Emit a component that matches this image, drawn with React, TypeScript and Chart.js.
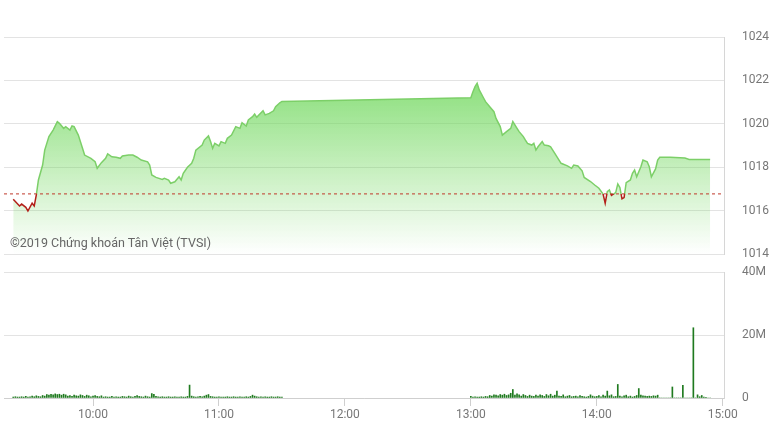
import React, { useEffect, useRef } from 'react';
import { Chart, registerables } from 'chart.js';

Chart.register(...registerables);

// ---------- DATA ----------
const priceTimes = [
  '09:22', '09:25', '09:26', '09:28', '09:29', '09:31', '09:32', '09:33', '09:34', '09:36',
  '09:37', '09:39', '09:41', '09:43', '09:44', '09:46', '09:47', '09:49', '09:50', '09:51',
  '09:53', '09:55', '09:56', '09:59', '10:01', '10:02', '10:04', '10:06', '10:07', '10:09',
  '10:11', '10:13', '10:14', '10:17', '10:19', '10:21', '10:23', '10:26', '10:27', '10:28',
  '10:30', '10:33', '10:34', '10:36', '10:37', '10:39', '10:41', '10:42', '10:43', '10:45',
  '10:47', '10:48', '10:49', '10:52', '10:53', '10:55', '10:56', '10:57', '10:58', '11:00',
  '11:01', '11:03', '11:04', '11:06', '11:08', '11:10', '11:11', '11:13', '11:14', '11:16',
  '11:17', '11:18', '11:19', '11:21', '11:22', '11:24', '11:26', '11:27', '11:29', '11:30',
  '13:00', '13:01', '13:02', '13:03', '13:04', '13:06', '13:07', '13:09', '13:11', '13:12',
  '13:14', '13:15', '13:17', '13:19', '13:20', '13:22', '13:23', '13:25', '13:26', '13:27',
  '13:29', '13:30', '13:31', '13:32', '13:34', '13:35', '13:37', '13:38', '13:40', '13:42',
  '13:43', '13:46', '13:48', '13:49', '13:51', '13:53', '13:54', '13:57', '13:59', '14:01',
  '14:03', '14:04', '14:05', '14:06', '14:07', '14:09', '14:10', '14:11', '14:12', '14:13',
  '14:14', '14:16', '14:17', '14:18', '14:19', '14:21', '14:22', '14:24', '14:25', '14:26',
  '14:28', '14:29', '14:30', '14:35', '14:42', '14:44', '14:54',
];
const priceValues = [
  1016.52, 1016.21, 1016.30, 1016.15, 1015.98, 1016.34, 1016.21, 1016.72, 1017.41, 1018.10,
  1018.79, 1019.41, 1019.71, 1020.10, 1020.02, 1019.79, 1019.87, 1019.71, 1019.90, 1019.87,
  1019.48, 1018.87, 1018.56, 1018.41, 1018.25, 1017.95, 1018.21, 1018.41, 1018.61, 1018.48,
  1018.46, 1018.41, 1018.52, 1018.56, 1018.56, 1018.46, 1018.33, 1018.25, 1018.10, 1017.64,
  1017.53, 1017.44, 1017.49, 1017.41, 1017.26, 1017.33, 1017.56, 1017.41, 1017.72, 1018.00,
  1018.18, 1018.41, 1018.79, 1019.02, 1019.25, 1019.44, 1019.18, 1018.87, 1019.10, 1018.98,
  1019.18, 1019.10, 1019.33, 1019.48, 1019.87, 1019.79, 1020.05, 1019.90, 1020.18, 1020.33,
  1020.45, 1020.30, 1020.41, 1020.60, 1020.41, 1020.48, 1020.60, 1020.79, 1020.97, 1021.03,
  1021.20, 1021.48, 1021.71, 1021.87, 1021.56, 1021.20, 1021.02, 1020.79, 1020.56, 1020.25,
  1019.87, 1019.48, 1019.64, 1019.79, 1020.10, 1019.79, 1019.64, 1019.41, 1019.25, 1019.10,
  1019.02, 1019.10, 1018.79, 1018.94, 1019.18, 1019.02, 1018.99, 1018.94, 1018.64, 1018.33,
  1018.18, 1018.06, 1017.95, 1018.10, 1018.06, 1017.83, 1017.53, 1017.34, 1017.18, 1017.03,
  1016.76, 1016.34, 1016.87, 1016.95, 1016.70, 1016.83, 1017.23, 1017.06, 1016.54, 1016.60,
  1017.29, 1017.41, 1017.72, 1017.87, 1017.56, 1018.02, 1018.33, 1018.25, 1018.02, 1017.56,
  1017.92, 1018.33, 1018.46, 1018.46, 1018.42, 1018.36, 1018.36,
];
const referenceValue = 1016.77;

// volume in millions, one value per minute
const volMorningStart = '09:22';
const volMorning = [
  0.3, 0.4, 0.3, 0.3, 0.4, 0.3, 0.5, 0.3, 0.4, 0.6,
  0.4, 0.7, 0.5, 0.4, 0.8, 0.6, 1.1, 0.9, 1.2, 1.0,
  1.3, 1.1, 1.2, 0.9, 1.2, 1.0, 0.6, 0.8, 0.5, 0.9,
  0.7, 0.6, 1.0, 0.8, 0.5, 0.9, 0.7, 0.4, 0.6, 0.8,
  0.5, 0.4, 0.7, 0.3, 0.4, 0.3, 0.3, 0.5, 0.3, 0.4,
  0.3, 0.3, 0.5, 0.4, 0.3, 0.6, 0.4, 0.3, 0.5, 0.8,
  0.5, 0.4, 0.3, 0.6, 0.4, 0.3, 1.4, 1.2, 0.5, 0.4,
  0.3, 0.4, 0.3, 0.3, 0.4, 0.3, 0.3, 0.4, 0.3, 0.3,
  0.4, 0.3, 0.3, 0.5, 4.1, 0.6, 0.4, 0.3, 0.4, 0.5,
  0.4, 0.6, 0.9, 1.1, 0.5, 0.4, 0.3, 0.3, 0.4, 0.3,
  0.3, 0.3, 0.4, 0.3, 0.3, 0.4, 0.3, 0.3, 0.4, 0.3,
  0.3, 0.4, 0.3, 0.5, 0.9, 0.6, 0.4, 0.3, 0.4, 0.3,
  0.4, 0.3, 0.3, 0.4, 0.3, 0.3, 0.4, 0.3, 0.3,
];
const volAfternoonStart = '13:00';
const volAfternoon = [
  0.5, 0.3, 0.4, 0.3, 0.3, 0.4, 0.3, 0.5, 0.4, 0.8,
  0.6, 1.0, 0.9, 0.7, 1.1, 0.9, 1.2, 0.8, 1.0, 1.5,
  2.7, 0.9, 1.3, 1.0, 0.6, 1.1, 0.8, 0.5, 0.9, 0.6,
  0.5, 0.9, 0.6, 1.0, 0.8, 0.5, 1.1, 0.7, 1.2, 0.6,
  0.9, 2.2, 0.6, 0.5, 1.0, 0.4, 0.6, 0.8, 0.4, 0.5,
  0.6, 0.4, 0.8, 0.5, 0.4, 0.3, 0.5, 1.0, 0.6, 0.4,
  0.5, 0.8, 0.4, 0.9, 0.6, 2.2, 0.7, 1.0, 0.4, 0.5,
  4.3, 0.6, 0.4, 0.7, 0.9, 0.4, 0.6, 0.3, 0.5, 0.8,
  3.0, 0.9, 0.7, 0.6, 0.5, 0.6, 0.5, 0.7, 0.6, 0.9,
  0, 0, 0, 0, 0, 0, 3.5, 0, 0, 0,
  0, 4.0, 0, 0, 0, 0, 22.3, 0, 1.0, 0.4,
  0.8, 0.3, 0.2, 0, 0,
];

const priceTicks = [1014, 1016, 1018, 1020, 1022, 1024];
const volumeTicks = [0, 20, 40];
const hourTicks = ['10:00', '11:00', '12:00', '13:00', '14:00', '15:00'];
const watermark = '©2019 Chứng khoán Tân Việt (TVSI)';

// ---------- HELPERS ----------
const toMin = (s: string) => {
  const [h, m] = s.split(':').map(Number);
  return h * 60 + m;
};
const fmtMin = (v: number) => {
  const h = Math.floor(v / 60);
  const m = Math.round(v - h * 60);
  return `${h}:${String(m).padStart(2, '0')}`;
};

const X_MIN = 557.6;
const X_MAX = 900.6;
const FONT = { family: 'Roboto, "Noto Sans", sans-serif', size: 12 };
const TICK_COLOR = '#777';
const GRID_COLOR = '#e3e3e3';
const BORDER_COLOR = '#d6d6d6';

const fitRightAxis = (s: any) => {
  s.width = 56;
  s.paddingTop = 0;
  s.paddingBottom = 0;
};

export default function App() {
  const topRef = useRef<HTMLCanvasElement>(null);
  const botRef = useRef<HTMLCanvasElement>(null);

  useEffect(() => {
    const pricePoints = priceTimes.map((t, i) => ({ x: toMin(t), y: priceValues[i] }));
    const volPoints: { x: number; y: number }[] = [];
    volMorning.forEach((v, i) => volPoints.push({ x: toMin(volMorningStart) + i, y: v }));
    volAfternoon.forEach((v, i) => volPoints.push({ x: toMin(volAfternoonStart) + i, y: v }));

    const lineColor = (ctx: any) => {
      const chart = ctx.chart;
      const area = chart.chartArea;
      const ys = chart.scales?.y;
      if (!area || !ys) return '#7ccf68';
      const refY = ys.getPixelForValue(referenceValue);
      const f = Math.min(Math.max((refY - area.top) / (area.bottom - area.top), 0), 1);
      const g = chart.ctx.createLinearGradient(0, area.top, 0, area.bottom);
      g.addColorStop(0, '#7ccf68');
      g.addColorStop(Math.max(f - 0.0001, 0), '#7ccf68');
      g.addColorStop(f, '#b3201a');
      g.addColorStop(1, '#b3201a');
      return g;
    };
    const fillColor = (ctx: any) => {
      const chart = ctx.chart;
      const area = chart.chartArea;
      if (!area) return 'rgba(110,215,90,0.5)';
      const g = chart.ctx.createLinearGradient(0, area.top, 0, area.bottom);
      g.addColorStop(0, 'rgba(110,215,90,1)');
      g.addColorStop(1, 'rgba(110,215,90,0)');
      return g;
    };

    const top = new Chart(topRef.current!, {
      type: 'line',
      data: {
        datasets: [
          {
            data: [
              { x: X_MIN, y: referenceValue },
              { x: X_MAX, y: referenceValue },
            ],
            borderColor: '#c0392b',
            borderDash: [3, 3],
            borderWidth: 1,
            pointRadius: 0,
            fill: false,
            order: 1,
          } as any,
          {
            data: pricePoints,
            borderColor: lineColor,
            backgroundColor: fillColor,
            fill: 'start',
            borderWidth: 1.5,
            pointRadius: 0,
            tension: 0,
            order: 2,
          } as any,
        ],
      },
      options: {
        animation: false,
        responsive: false,
        maintainAspectRatio: false,
        layout: { padding: { top: 37, left: 4, right: 0, bottom: 8 } },
        plugins: { legend: { display: false }, tooltip: { enabled: false } },
        scales: {
          x: { type: 'linear', min: X_MIN, max: X_MAX, display: false },
          y: {
            position: 'right',
            min: 1014,
            max: 1024,
            afterBuildTicks: (s: any) => {
              s.ticks = priceTicks.map((v) => ({ value: v }));
            },
            afterFit: fitRightAxis,
            grid: { color: GRID_COLOR, drawTicks: false },
            border: { display: true, color: BORDER_COLOR },
            ticks: {
              padding: 18,
              color: TICK_COLOR,
              font: FONT,
              callback: (v: any) => String(v),
            },
          },
        },
      } as any,
    });

    const bottom = new Chart(botRef.current!, {
      type: 'bar',
      data: {
        datasets: [
          {
            data: volPoints,
            backgroundColor: '#1f7a1f',
            barThickness: 1,
            borderWidth: 0,
          } as any,
        ],
      },
      options: {
        animation: false,
        responsive: false,
        maintainAspectRatio: false,
        layout: { padding: { top: 10, left: 4, right: 0, bottom: 0 } },
        plugins: { legend: { display: false }, tooltip: { enabled: false } },
        scales: {
          x: {
            type: 'linear',
            min: X_MIN,
            max: X_MAX,
            offset: false,
            afterBuildTicks: (s: any) => {
              s.ticks = hourTicks.map((t) => ({ value: toMin(t) }));
            },
            afterFit: (s: any) => {
              s.height = 34;
            },
            grid: { offset: false, drawOnChartArea: false, drawTicks: true, tickLength: 8, color: '#cfcfcf' },
            border: { display: true, color: '#cfcfcf' },
            ticks: {
              padding: 2,
              color: TICK_COLOR,
              font: FONT,
              maxRotation: 0,
              autoSkip: false,
              callback: (v: any) => fmtMin(Number(v)),
            },
          },
          y: {
            position: 'right',
            min: 0,
            max: 40,
            afterBuildTicks: (s: any) => {
              s.ticks = volumeTicks.map((v) => ({ value: v }));
            },
            afterFit: fitRightAxis,
            grid: { color: GRID_COLOR, drawTicks: false },
            border: { display: true, color: BORDER_COLOR },
            ticks: {
              padding: 18,
              color: TICK_COLOR,
              font: FONT,
              callback: (v: any) => (Number(v) === 0 ? '0' : `${v}M`),
            },
          },
        },
      } as any,
    });

    return () => {
      top.destroy();
      bottom.destroy();
    };
  }, []);

  return (
    <div
      style={{
        position: 'absolute',
        left: 0,
        top: 0,
        width: 780,
        height: 432,
        background: '#fff',
        overflow: 'hidden',
      }}
    >
      <canvas
        ref={topRef}
        width={780}
        height={262}
        style={{ position: 'absolute', left: 0, top: 0, width: 780, height: 262, display: 'block' }}
      />
      <canvas
        ref={botRef}
        width={780}
        height={170}
        style={{ position: 'absolute', left: 0, top: 262, width: 780, height: 170, display: 'block' }}
      />
      <div
        style={{
          position: 'absolute',
          left: 10,
          top: 235,
          fontFamily: 'Roboto, "Noto Sans", sans-serif',
          fontSize: 12.5,
          color: '#666',
          whiteSpace: 'nowrap',
          lineHeight: '16px',
          pointerEvents: 'none',
        }}
      >
        {watermark}
      </div>
    </div>
  );
}
